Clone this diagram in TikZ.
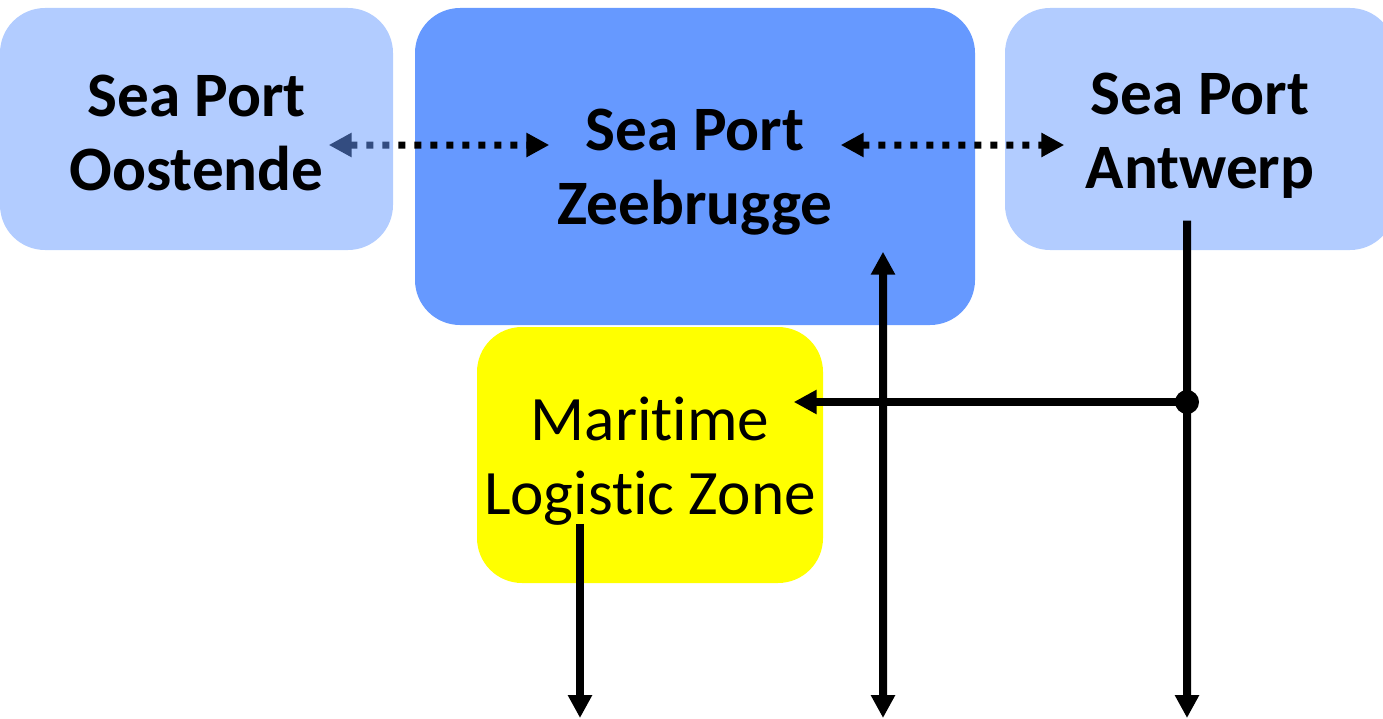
\documentclass[tikz,border=0pt]{standalone}
\usepackage{fontspec}
\setmainfont{Carlito}[Ligatures={NoCommon}]
\usetikzlibrary{arrows.meta}
\definecolor{seablue}{HTML}{6699FF}
\definecolor{zoneyellow}{HTML}{FFFF00}
\pgfdeclarelayer{front}
\pgfsetlayers{main,front}
\tikzset{
  portbox/.style={fill=seablue, rounded corners=0.45cm, inner sep=0pt},
  sideport/.style={portbox, fill opacity=0.5, minimum width=3.93cm, minimum height=2.42cm},
  porttext/.style={align=center, font=\bfseries\fontsize{18}{21}\selectfont, inner sep=0pt},
  zonetext/.style={align=center, font=\fontsize{18}{21}\selectfont, inner sep=0pt},
  link/.style={line width=0.08cm, -{Triangle[length=0.23cm,width=0.23cm]}},
  dotlink/.style={line width=0.07cm, dash pattern=on 0.07cm off 0.09cm, {Triangle[length=0.23cm,width=0.23cm]}-{Triangle[length=0.23cm,width=0.23cm]}}
}
\begin{document}
\begin{tikzpicture}
    \useasboundingbox (0,0) rectangle (13.83,7.18);
    \node[portbox, minimum width=5.60cm, minimum height=3.17cm] (zeebrugge) at (6.95,5.515) {};
    \node[sideport, minimum width=3.90cm] (antwerp) at (12.00,5.89) {};
    \node[fill=zoneyellow, rounded corners=0.45cm, inner sep=0pt, minimum width=3.46cm, minimum height=2.56cm] (mlz) at (6.50,2.63) {};
    \begin{pgfonlayer}{front}
        \node[sideport] (oostende) at (1.965,5.89) {};
        \node[porttext] (oostendetext) at ([yshift=-0.04cm]oostende.center) {Sea Port\\Oostende};
    \end{pgfonlayer}
    \node[porttext] (zeebruggetext) at ([yshift=-0.06cm]zeebrugge.center) {Sea Port\\Zeebrugge};
    \node[porttext] (antwerptext) at ([yshift=-0.07cm]antwerp.center) {Sea Port\\Antwerp};
    \node[zonetext] (mlztext) at ([yshift=-0.06cm]mlz.center) {Maritime\\Logistic Zone};
    % free ends at the bottom
    \coordinate (outmlz) at (5.80,0);
    \coordinate (outzee) at (8.83,0);
    \coordinate (outant) at (11.87,0);
    \coordinate (junction) at (11.87,3.16);
    \draw[dotlink] ([xshift=-0.65cm,yshift=-0.16cm]oostende.east) -- ([xshift=1.35cm,yshift=0.215cm]zeebrugge.west);
    \draw[dotlink] ([xshift=-1.35cm,yshift=0.215cm]zeebrugge.east) -- ([xshift=0.60cm,yshift=-0.16cm]antwerp.west);
    \draw[link] ([xshift=-0.13cm,yshift=0.30cm]antwerp.south) -- (outant);
    \draw[link] (junction) -- ([xshift=-0.30cm,yshift=0.53cm]mlz.east);
    \fill (junction) circle (0.12);
    \draw[link,{Triangle[length=0.23cm,width=0.23cm]}-{Triangle[length=0.23cm,width=0.23cm]}] (outzee) -- ([xshift=1.88cm,yshift=0.74cm]zeebrugge.south);
    \draw[link] ([xshift=-0.70cm,yshift=0.60cm]mlz.south) -- (outmlz);
\end{tikzpicture}
\end{document}
